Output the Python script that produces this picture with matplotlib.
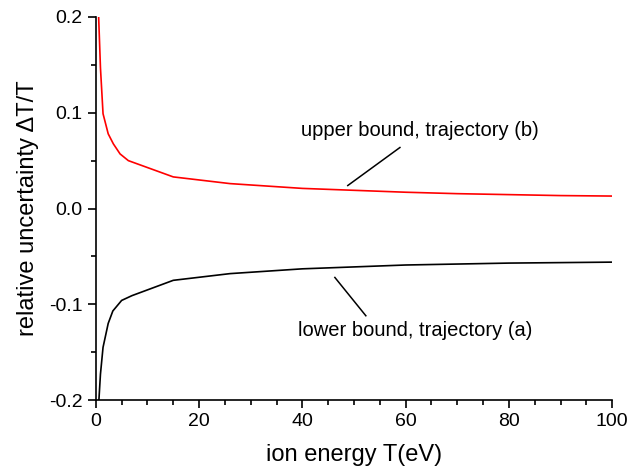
import numpy as np
import matplotlib.pyplot as plt
from matplotlib.ticker import MultipleLocator

plt.rcParams['font.family'] = ['Liberation Sans', 'DejaVu Sans']

# ion energy T (eV) and relative uncertainty bounds
T_upper = [0.55, 0.9, 1.4, 2.4, 3.4, 4.7, 6.3, 15, 26, 40, 50, 60, 70, 80, 90, 100]
upper = [0.2, 0.147, 0.099, 0.078, 0.0675, 0.057, 0.05, 0.033, 0.026, 0.021,
         0.019, 0.017, 0.0155, 0.0145, 0.0135, 0.013]

T_lower = [0.6, 0.9, 1.4, 2.4, 3.3, 5.0, 7.0, 15, 26, 40, 50, 60, 70, 80, 90, 100]
lower = [-0.2, -0.173, -0.145, -0.12, -0.107, -0.096, -0.091, -0.075, -0.068,
         -0.063, -0.061, -0.059, -0.058, -0.057, -0.0565, -0.056]

# label leader lines (curve end -> text end)
upper_lead_T = [48.8, 58.9]
upper_lead_y = [0.024, 0.0637]
lower_lead_T = [46.3, 52.3]
lower_lead_y = [-0.072, -0.112]

fig = plt.figure(figsize=(6.43, 4.72), dpi=100)
ax = fig.add_axes([0.149, 0.1525, 0.803, 0.8115])

ax.plot(T_upper, upper, color='red', lw=1.2)
ax.plot(T_lower, lower, color='black', lw=1.2)

ax.plot(upper_lead_T, upper_lead_y, color='black', lw=1.1)
ax.plot(lower_lead_T, lower_lead_y, color='black', lw=1.1)
ax.text(62.8, 0.0815, 'upper bound, trajectory (b)', ha='center', va='center', fontsize=14.5)
ax.text(61.8, -0.127, 'lower bound, trajectory (a)', ha='center', va='center', fontsize=14.5)

ax.set_xlim(0, 100)
ax.set_ylim(-0.2, 0.2)
ax.xaxis.set_major_locator(MultipleLocator(20))
ax.xaxis.set_minor_locator(MultipleLocator(5))
ax.yaxis.set_major_locator(MultipleLocator(0.1))
ax.yaxis.set_minor_locator(MultipleLocator(0.05))
ax.yaxis.set_major_formatter(plt.FuncFormatter(lambda v, p: f"{v:.1f}"))

for s in ['top', 'right']:
    ax.spines[s].set_visible(False)
for s in ['left', 'bottom']:
    ax.spines[s].set_linewidth(1.2)
ax.tick_params(which='major', direction='out', length=6, width=1.2, labelsize=14)
ax.tick_params(which='minor', direction='out', length=3.5, width=1.2)

ax.set_xlabel('ion energy T(eV)', fontsize=17, labelpad=10)
ax.set_ylabel('relative uncertainty \u0394T/T', fontsize=17, labelpad=7)

fig.savefig('out.png', dpi=100)
